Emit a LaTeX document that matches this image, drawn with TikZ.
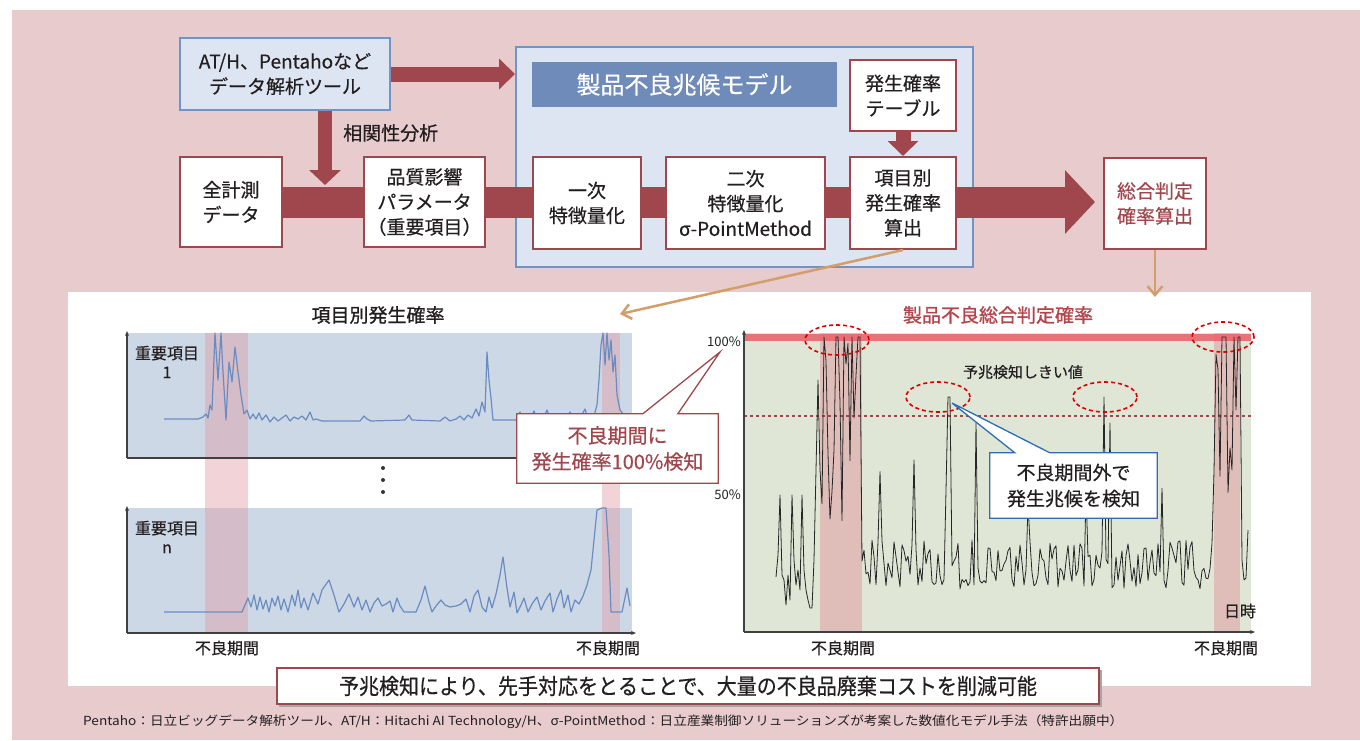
\documentclass[tikz,border=0pt]{standalone}
\usepackage{fontspec}
\usepackage{graphicx}
\setmainfont{Noto Sans CJK JP}
\newfontfamily\medfont{Noto Sans CJK JP}[FakeBold=0.5]
\newfontfamily\hvfont{Noto Sans CJK JP}[FakeBold=1.1]
\usetikzlibrary{arrows.meta,calc}
\definecolor{pinkbg}{HTML}{E8CBCD}
\definecolor{dred}{HTML}{A0474E}
\definecolor{lblue}{HTML}{DDE5F3}
\definecolor{bblue}{HTML}{7294C4}
\definecolor{tbar}{HTML}{6F8BBA}
\definecolor{tanc}{HTML}{D49E6C}
\definecolor{chblue}{HTML}{CDD8E6}
\definecolor{chgreen}{HTML}{DFE6D6}
\definecolor{bandpink}{HTML}{E0959E}
\definecolor{lineblue}{HTML}{6A8CC0}
\definecolor{topred}{HTML}{E8676D}
\definecolor{calblue}{HTML}{2E6DB4}
\definecolor{txt}{HTML}{231F20}
\definecolor{ttlred}{HTML}{B5434B}
\newcommand\myfs[2]{\fontsize{#1}{#2}\selectfont}
\begin{document}
\begin{tikzpicture}[x=1pt,y=-1pt,
  box/.style={draw=dred, line width=2pt, fill=white, align=center, inner sep=0pt, text=txt, font=\medfont\myfs{19}{25}},
  bluebox/.style={draw=bblue, line width=2pt, fill=lblue, align=center, inner sep=0pt, text=txt, font=\medfont\myfs{19}{25}},
  band/.style={draw=dred},
  lbl/.style={inner sep=0pt, text=txt, font=\medfont\myfs{16}{19}, align=center},
  axisline/.style={draw=black!75, line width=1.3pt},
  axarrow/.style={-{Stealth[length=5pt,width=4pt]}},
  bandfill/.style={fill=bandpink, fill opacity=0.4},
  tanarrow/.style={draw=tanc, line width=2.5pt, -{Straight Barb[length=9pt,width=15pt]}},
  ell/.style={draw=red!85!black, line width=1.6pt, dash pattern=on 4pt off 3pt},
  dline/.style={draw=black!85, line width=0.8pt, line join=round},
  bline/.style={draw=lineblue, line width=1.2pt, line join=round}]
\useasboundingbox (0,0) rectangle (1360,740);
\fill[white] (0,0) rectangle (1360,740);
\fill[pinkbg] (12,10) rectangle (1360,740);

% top flow
\node[bluebox, minimum width=210pt, minimum height=72pt] (at) at (285,74) {AT/H、Pentahoなど\\データ解析ツール};
\node[draw=bblue, line width=2pt, fill=lblue, minimum width=457pt, minimum height=220pt, inner sep=0pt] (model) at (744.5,157) {};
\node[box, minimum width=102pt, minimum height=90pt] (zen) at (231,202) {全計測\\データ};
\node[box, draw=dred, text=dred, minimum width=102pt, minimum height=91pt] (sogo) at (1155,203.5) {総合判定\\確率算出};

\draw[band, line width=31pt, -{Triangle[width=62pt,length=30pt]}, shorten >=8pt] (zen.east) -- (zen.east -| sogo.west);
\draw[band, line width=15pt, -{Triangle[width=30pt,length=16pt]}] (at.east) -- (at.east -| model.west);
\coordinate (dtop) at (325,111);
\coordinate (dend) at (325,185);
\draw[band, line width=14pt, -{Triangle[width=31pt,length=15pt]}] (dtop) -- (dend);
\node[lbl, font=\medfont\myfs{19}{22}, anchor=west] (corr) at (343,133) {相関性分析};

\node[box, minimum width=121pt, minimum height=90pt] (hin) at (424.5,202) {品質影響\\パラメータ\\（重要項目）};
\node[fill=tbar, minimum width=305pt, minimum height=45pt, inner sep=0pt, text=white, font=\medfont\myfs{24}{28}] (title) at (684.5,84.5) {製品不良兆候モデル};
\node[box, minimum width=106pt, minimum height=71pt] (tab) at (903,95.5) {発生確率\\テーブル};
\node[box, minimum width=108pt, minimum height=92pt] (ichi) at (587,203) {一次\\特徴量化};
\node[box, minimum width=159pt, minimum height=92pt] (ni) at (745.5,203) {二次\\特徴量化\\σ-PointMethod};
\node[box, minimum width=106pt, minimum height=92pt] (kou) at (903,203) {項目別\\発生確率\\算出};
\draw[band, line width=15pt, -{Triangle[width=30pt,length=15pt]}] (tab.south) -- (kou.north);

% white panel
\node[fill=white, minimum width=1243pt, minimum height=394pt, inner sep=0pt] (panel) at (689.5,489) {};

% left charts
\fill[chblue] (127,333) rectangle (632,458);
\fill[chblue] (127,508) rectangle (632,633);
\fill[bandfill] (205,333) rectangle (248,633);
\fill[bandfill] (602,333) rectangle (620,633);
\draw[bline] (164,419) -- (198,419) -- (203,417) -- (206,414) -- (208,418) -- (210,405) -- (212,410) -- (215,333) -- (218,380) -- (221,333) -- (223,372) -- (226,420) -- (229,362) -- (232,382) -- (235,347) -- (238,372) -- (241,395) -- (244,414) -- (247,410) -- (250,419) -- (253,414) -- (256,419) -- (259,413) -- (262,420) -- (266,415) -- (270,422) -- (274,417) -- (278,421) -- (282,418) -- (286,415) -- (290,421) -- (294,417) -- (298,419) -- (302,416) -- (306,420) -- (310,412) -- (313,420) -- (316,419) -- (322,421) -- (360,421) -- (364,416) -- (367,419) -- (371,421) -- (405,420) -- (409,415) -- (412,420) -- (440,421) -- (445,417) -- (450,421) -- (456,419) -- (460,416) -- (464,420) -- (468,415) -- (472,418) -- (476,409) -- (479,416) -- (482,402) -- (485,412) -- (487,352) -- (489,380) -- (491,398) -- (493,420) -- (516,420) -- (520,412) -- (523,419) -- (530,419) -- (534,411) -- (537,419) -- (543,419) -- (547,410) -- (550,418) -- (555,414) -- (559,419) -- (566,418) -- (570,412) -- (574,419) -- (580,418) -- (585,409) -- (588,419) -- (594,416) -- (597,405) -- (599,380) -- (601,345) -- (603,333) -- (605,365) -- (607,333) -- (609,360) -- (611,340) -- (613,372) -- (615,355) -- (617,395) -- (620,410) -- (624,415);
\draw[bline] (164,612) -- (242,612) -- (245,605) -- (248,598) -- (251,607) -- (254,595) -- (257,610) -- (260,597) -- (263,609) -- (266,600) -- (269,612) -- (272,598) -- (275,606) -- (278,596) -- (281,610) -- (284,599) -- (288,612) -- (292,595) -- (295,606) -- (298,590) -- (301,608) -- (304,598) -- (308,610) -- (313,593) -- (318,604) -- (322,590) -- (329,580) -- (334,595) -- (339,612) -- (344,604) -- (349,594) -- (354,607) -- (358,597) -- (362,610) -- (366,600) -- (370,612) -- (374,603) -- (378,598) -- (382,606) -- (386,604) -- (390,601) -- (393,612) -- (397,598) -- (400,606) -- (404,612) -- (416,612) -- (421,600) -- (425,586) -- (429,602) -- (432,612) -- (436,606) -- (441,600) -- (445,605) -- (450,607) -- (456,606) -- (461,604) -- (466,599) -- (470,612) -- (474,596) -- (478,590) -- (482,607) -- (486,612) -- (489,597) -- (492,608) -- (496,594) -- (500,575) -- (503,557) -- (507,588) -- (510,607) -- (514,592) -- (517,613) -- (521,605) -- (524,598) -- (528,612) -- (532,604) -- (537,597) -- (541,610) -- (545,601) -- (550,593) -- (553,612) -- (557,599) -- (561,590) -- (564,608) -- (568,595) -- (571,612) -- (575,600) -- (579,604) -- (583,596) -- (587,585) -- (591,570) -- (594,540) -- (597,510) -- (602,508) -- (606,508) -- (609,555) -- (611,612) -- (622,612) -- (627,588) -- (630,606);
\draw[axisline, axarrow] (127,458) -- (127,331);
\draw[axisline] (127,458) -- (632,458);
\draw[axisline, axarrow] (127,633) -- (127,506);
\draw[axisline, axarrow] (127,633) -- (636,633);
\fill[black!80] (383,468) circle (2pt) (383,480) circle (2pt) (383,492) circle (2pt);
\node[lbl, font=\hvfont\myfs{19}{22}] (ltitle) at (378,315) {項目別発生確率};
\node[lbl] (imp1) at (167,362) {重要項目\\1};
\node[lbl] (impn) at (167,537) {重要項目\\n};
\node[lbl] (fl1) at (227,648) {不良期間};
\node[lbl] (fl2) at (608,648) {不良期間};

% right chart
\fill[chgreen] (744,333) rectangle (1251,632);
\fill[bandpink, fill opacity=0.5] (820,333) rectangle (862,632);
\fill[bandpink, fill opacity=0.5] (1214,333) rectangle (1240,632);
\draw[topred, line width=7pt, opacity=0.9] (744,337) -- (1251,337);
\draw[dred, line width=1.5pt, dash pattern=on 3pt off 3pt] (744,416) -- (1251,416);
\pgfmathsetseed{12}
\draw[dline] (776,577) -- (778,555) -- (780,495) -- (782,575) -- (784,580) -- (786,605) -- (788,575) -- (790,600) -- (792,495) -- (794,560) -- (796,585) -- (798,570) -- (800,590) -- (802,495) -- (804,570) -- (806,590) -- (808,600) -- (810,608) -- (812,608) -- (814,560) -- (816,470) -- (818,380) -- (820,470)
  \foreach \x in {822,824,...,1240} { -- (\x,{ ((\x<862)||(\x>1212)) ? ((rnd<0.45) ? 337 : 337+190*rnd) : (((\x==948)||(\x==950)||(\x==1104)) ? 397 : (((\x==976)||(\x==1110)) ? 423 : ((rnd>0.94) ? 482+25*rand : 565+25*rand))) }) }
  -- (1242,560) -- (1244,580) -- (1246,578) -- (1248,530);
\draw[axisline, axarrow] (744,632) -- (744,330);
\draw[axisline, axarrow] (744,632) -- (1255,632);
\draw[ell] (837,340) ellipse [x radius=32pt, y radius=15pt];
\draw[ell] (1223,337) ellipse [x radius=31pt, y radius=15pt];
\draw[ell] (938,397) ellipse [x radius=32pt, y radius=15pt];
\draw[ell] (1105,397) ellipse [x radius=32pt, y radius=15pt];
\node[lbl, font=\hvfont\myfs{19}{22}, text=ttlred] (rtitle) at (998,315) {製品不良総合判定確率};
\node[lbl, font=\myfs{13}{15}, anchor=east] (p100) at (741,342) {100\%};
\node[lbl, font=\myfs{13}{15}, anchor=east] (p50) at (741,495) {50\%};
\node[lbl, font=\medfont\myfs{15}{18}] (thr) at (1023,372) {予兆検知しきい値};
\node[lbl] (dt) at (1240,611) {日時};
\node[lbl] (fr1) at (843,648) {不良期間};
\node[lbl] (fr2) at (1226,648) {不良期間};

% left callout
\node[minimum width=201pt, minimum height=69pt, inner sep=0pt] (cLbox) at (617.5,448.5) {};
\coordinate (tipL) at (720,352);
\filldraw[fill=white, draw=dred, line width=1.3pt, line join=miter] (cLbox.north west) -- ($(cLbox.north west)+(126,0)$) -- (tipL) -- ($(cLbox.north west)+(161,0)$) -- (cLbox.north east) -- (cLbox.south east) -- (cLbox.south west) -- cycle;
\node[lbl, font=\medfont\myfs{20}{26}, text=dred] (cL) at (cLbox.center) {不良期間に\\発生確率100\%検知};

% right callout
\node[minimum width=167pt, minimum height=65pt, inner sep=0pt] (cRbox) at (1073.5,485.5) {};
\coordinate (tipR) at (952,403);
\filldraw[fill=white, draw=calblue, line width=1.3pt, line join=miter] (cRbox.north west) -- ($(cRbox.north west)+(25,0)$) -- (tipR) -- ($(cRbox.north west)+(60,0)$) -- (cRbox.north east) -- (cRbox.south east) -- (cRbox.south west) -- cycle;
\node[lbl, font=\medfont\myfs{19}{26}] (cR) at (cRbox.center) {不良期間外で\\発生兆候を検知};

% tan arrows
\coordinate (tipA) at (620,314);
\coordinate (tipB) at (1155,297);
\draw[tanarrow] (kou.south) -- (tipA);
\draw[tanarrow] (sogo.south) -- (tipB);

% bottom box
\fill[black!35] (279,670) rectangle (1102,707);
\node[draw=dred, line width=2pt, fill=white, minimum width=822pt, minimum height=36pt, inner sep=0pt, text=txt] (bot) at (688,686) {\resizebox{698pt}{\height}{\medfont\myfs{22}{24}予兆検知により、先手対応をとることで、大量の不良品廃棄コストを削減可能}};
\node[inner sep=0pt, text=txt, anchor=west] (foot) at (83,722) {\resizebox{1040pt}{\height}{\myfs{12.5}{14}Pentaho：日立ビッグデータ解析ツール、AT/H：Hitachi AI Technology/H、σ-PointMethod：日立産業制御ソリューションズが考案した数値化モデル手法（特許出願中）}};
\end{tikzpicture}
\end{document}
